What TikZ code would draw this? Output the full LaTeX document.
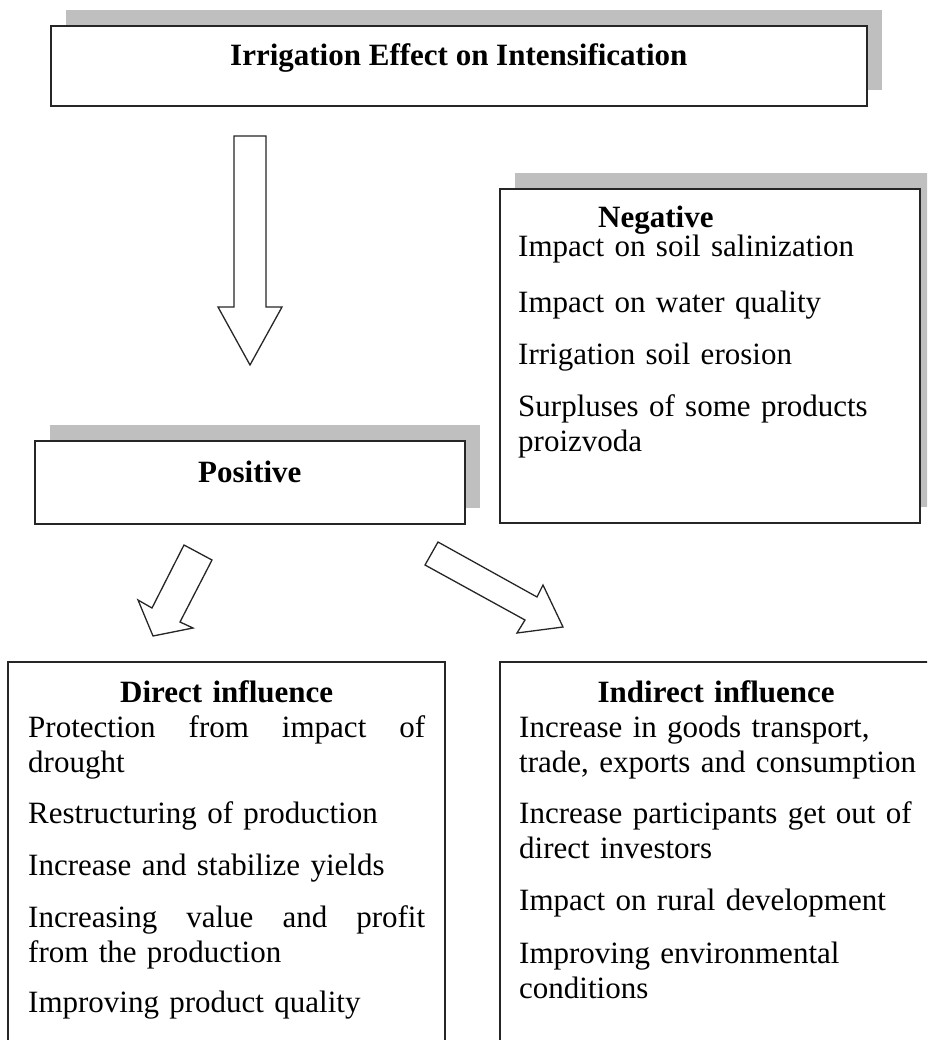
\documentclass[tikz,border=0pt]{standalone}
\usepackage{fontspec}
\setmainfont{Liberation Serif}
\usetikzlibrary{positioning,shadows}

\begin{document}
\begin{tikzpicture}[x=1pt, y=-1pt,
    panel/.style={
        draw=black!85,
        line width=1.6pt,
        fill=white,
        inner sep=0pt,
        anchor=north west},
    shaded/.style={
        general shadow={fill=black!25, shadow xshift=15pt, shadow yshift=16pt}},
    heading/.style={
        font=\bfseries\fontsize{31}{35}\selectfont,
        text height=21pt,
        text depth=21pt},
    itemtext/.style={
        anchor=base west,
        inner sep=0pt,
        align=left,
        font=\fontsize{31}{35}\selectfont},
    blockarrow/.style={
        draw=black!85,
        line width=1.3pt,
        fill=white,
        line join=miter}]

    \useasboundingbox (0,0) rectangle (927,1040);
    \clip (0,0) rectangle (927,1040);

    % boxes
    \node[panel, shaded, heading, minimum width=816pt, minimum height=80pt] (intens) at (50,25) {Irrigation Effect on Intensification};
    \node[panel, shaded, minimum width=420pt, minimum height=334pt] (negbox) at (499,188) {};
    \node[panel, shaded, heading, minimum width=430pt, minimum height=83pt] (posbox) at (34,440) {Positive};
    \node[panel, minimum width=437pt, minimum height=500pt] (dirbox) at (7,661) {};
    \node[panel, minimum width=500pt, minimum height=500pt] (indbox) at (499,661) {};

    % texts
    \node[itemtext, text width=395pt] (negtext) at (518,228) {%
        \hspace*{80pt}\textbf{Negative}\\[-6pt]
        Impact on soil salinization\\[21pt]
        Impact on water quality\\[17pt]
        Irrigation soil erosion\\[17pt]
        Surpluses of some products\\
        proizvoda};

    \node[itemtext, text width=397pt] (dirtext) at (28,702) {%
        \makebox[397pt]{\bfseries Direct influence}\\
        Protection\hfill from\hfill impact\hfill of\\
        drought\\[16pt]
        Restructuring of production\\[17pt]
        Increase and stabilize yields\\[17pt]
        Increasing\hfill value\hfill and\hfill profit\\
        from the production\\[15pt]
        Improving product quality};

    \node[itemtext, text width=410pt] (indtext) at (519,702) {%
        \makebox[394pt]{\bfseries Indirect influence}\\
        Increase in goods transport,\\
        trade, exports and consumption\\[16pt]
        Increase participants get out of\\
        direct investors\\[17pt]
        Impact on rural development\\[18pt]
        Improving environmental\\
        conditions};

    % block arrows
    \draw[blockarrow] (234,136) -- (266,136) -- (266,307) -- (282,307) -- (250,365) -- (218,307) -- (234,307) -- cycle;
    \draw[blockarrow] (184,545) -- (212,560) -- (180,622) -- (193,628) -- (153,636) -- (138,600) -- (152,608) -- cycle;
    \draw[blockarrow] (438,542) -- (425,565) -- (525,620) -- (517,633) -- (563,627) -- (543,585) -- (537,597) -- cycle;
\end{tikzpicture}
\end{document}
